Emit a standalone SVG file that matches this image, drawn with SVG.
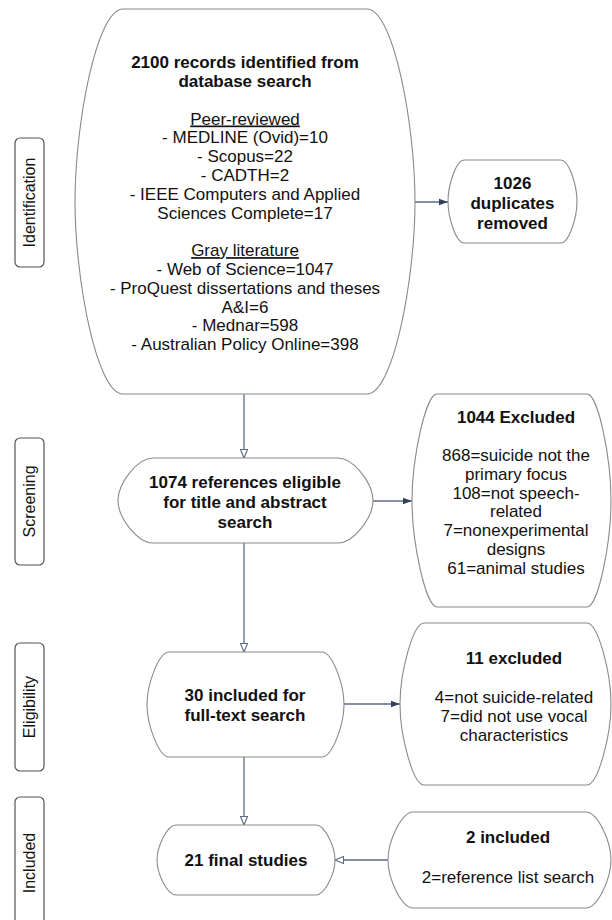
<svg xmlns="http://www.w3.org/2000/svg" width="612" height="920" viewBox="0 0 612 920">
<defs>
<style>
.box{fill:#fff;stroke:#8a8a8a;stroke-width:1.1}
.lab{fill:#fff;stroke:#555;stroke-width:1.2}
.t{font-family:"Liberation Sans",Arial,sans-serif;font-size:17px;fill:#111;text-anchor:middle}
.b{font-weight:bold}
.lt{font-family:"Liberation Sans",Arial,sans-serif;font-size:16px;fill:#111;text-anchor:middle}
.c{fill:none;stroke:#5d6a86;stroke-width:1.3}
</style>
<marker id="af" markerUnits="userSpaceOnUse" markerWidth="10" markerHeight="8" refX="9" refY="4" orient="auto"><path d="M0,0.8 L9,4 L0,7.2 Z" fill="#34405c"/></marker>
<marker id="ah" markerUnits="userSpaceOnUse" markerWidth="11" markerHeight="10" refX="9.5" refY="5" orient="auto"><path d="M1,1.5 L9.5,5 L1,8.5 Z" fill="#fff" stroke="#5d6a86" stroke-width="1.1"/></marker>
</defs>
<rect width="612" height="920" fill="#fff"/>

<g id="label-identification"><rect class="lab" x="15" y="138" width="29" height="129" rx="5"/><text class="lt" x="29.5" y="208" transform="rotate(-90 29.5 202.5)">Identification</text></g>
<g id="label-screening"><rect class="lab" x="15" y="438" width="29" height="127" rx="5"/><text class="lt" x="29.5" y="507" transform="rotate(-90 29.5 501.5)">Screening</text></g>
<g id="label-eligibility"><rect class="lab" x="15" y="643" width="29" height="128" rx="5"/><text class="lt" x="29.5" y="712.5" transform="rotate(-90 29.5 707)">Eligibility</text></g>
<g id="label-included"><rect class="lab" x="15" y="797" width="29" height="132" rx="5"/><text class="lt" x="29.5" y="868.5" transform="rotate(-90 29.5 863)">Included</text></g>

<g id="connectors">
<line class="c" x1="415" y1="202" x2="448" y2="202" marker-end="url(#af)"/>
<line class="c" x1="244" y1="394" x2="244" y2="458" marker-end="url(#ah)"/>
<line class="c" x1="373" y1="501" x2="412" y2="501" marker-end="url(#af)"/>
<line class="c" x1="244" y1="543" x2="244" y2="652" marker-end="url(#ah)"/>
<line class="c" x1="344" y1="704" x2="400" y2="704" marker-end="url(#af)"/>
<line class="c" x1="244" y1="757" x2="244" y2="825" marker-end="url(#ah)"/>
<line class="c" x1="388" y1="860" x2="335" y2="860" marker-end="url(#ah)"/>
</g>

<g id="records">
<path class="box" d="M123,9 H367 C393.4,9 415,124.5 415,201.5 C415,278.5 393.4,394 367,394 H123 C96.6,394 75,278.5 75,201.5 C75,124.5 96.6,9 123,9 Z"/>
<text class="t b" x="245" y="68">2100 records identified from</text>
<text class="t b" x="245" y="87">database search</text>
<text class="t" x="245" y="124.5" text-decoration="underline">Peer-reviewed</text>
<text class="t" x="245" y="143.3">- MEDLINE (Ovid)=10</text>
<text class="t" x="245" y="162.1">- Scopus=22</text>
<text class="t" x="245" y="180.9">- CADTH=2</text>
<text class="t" x="245" y="199.7">- IEEE Computers and Applied</text>
<text class="t" x="245" y="218.5">Sciences Complete=17</text>
<text class="t" x="245" y="256.1" text-decoration="underline">Gray literature</text>
<text class="t" x="245" y="274.9">- Web of Science=1047</text>
<text class="t" x="245" y="293.7">- ProQuest dissertations and theses</text>
<text class="t" x="245" y="312.5">A&amp;I=6</text>
<text class="t" x="245" y="331.3">- Mednar=598</text>
<text class="t" x="245" y="350.1">- Australian Policy Online=398</text>
</g>

<g id="duplicates">
<path class="box" d="M464,160 H561 C568.8,160 577,185 577,201.5 C577,218 568.8,243 561,243 H464 C456.2,243 448,218 448,201.5 C448,185 456.2,160 464,160 Z"/>
<text class="t b" x="512.5" y="189">1026</text>
<text class="t b" x="512.5" y="209">duplicates</text>
<text class="t b" x="512.5" y="229">removed</text>
</g>

<g id="screening">
<path class="box" d="M153,458 H338 C353.75,458 373,483.5 373,500.5 C373,517.5 353.75,543 338,543 H153 C137.25,543 118,517.5 118,500.5 C118,483.5 137.25,458 153,458 Z"/>
<text class="t b" x="245" y="488">1074 references eligible</text>
<text class="t b" x="245" y="508">for title and abstract</text>
<text class="t b" x="245" y="528">search</text>
</g>

<g id="excluded-1044">
<path class="box" d="M437,394 H587 C598.25,394 611,458 611,500.5 C611,543 598.25,607 587,607 H437 C425.75,607 412,543 412,500.5 C412,458 425.75,394 437,394 Z"/>
<text class="t b" x="516" y="423">1044 Excluded</text>
<text class="t" x="516" y="461">868=suicide not the</text>
<text class="t" x="516" y="479.8">primary focus</text>
<text class="t" x="516" y="498.6">108=not speech-</text>
<text class="t" x="516" y="517.4">related</text>
<text class="t" x="516" y="536.2">7=nonexperimental</text>
<text class="t" x="516" y="555">designs</text>
<text class="t" x="516" y="573.8">61=animal studies</text>
</g>

<g id="fulltext">
<path class="box" d="M169,652 H322 C331.9,652 344,683.5 344,704.5 C344,725.5 331.9,757 322,757 H169 C159.1,757 147,725.5 147,704.5 C147,683.5 159.1,652 169,652 Z"/>
<text class="t b" x="245" y="701">30 included for</text>
<text class="t b" x="245" y="721">full-text search</text>
</g>

<g id="excluded-11">
<path class="box" d="M424,623 H587 C597.8,623 611,671.6 611,704 C611,736.4 597.8,785 587,785 H424 C413.2,785 400,736.4 400,704 C400,671.6 413.2,623 424,623 Z"/>
<text class="t b" x="514" y="664">11 excluded</text>
<text class="t" x="514" y="703">4=not suicide-related</text>
<text class="t" x="514" y="722">7=did not use vocal</text>
<text class="t" x="514" y="741">characteristics</text>
</g>

<g id="final">
<path class="box" d="M176,825 H316 C324.55,825 335,846 335,860 C335,874 324.55,895 316,895 H176 C167.45,895 157,874 157,860 C157,846 167.45,825 176,825 Z"/>
<text class="t b" x="246" y="866">21 final studies</text>
</g>

<g id="included-2">
<path class="box" d="M413,812 H586 C597.25,812 611,840.8 611,860 C611,879.2 597.25,908 586,908 H413 C401.75,908 388,879.2 388,860 C388,840.8 401.75,812 413,812 Z"/>
<text class="t b" x="508" y="843">2 included</text>
<text class="t" x="508" y="883">2=reference list search</text>
</g>
</svg>
